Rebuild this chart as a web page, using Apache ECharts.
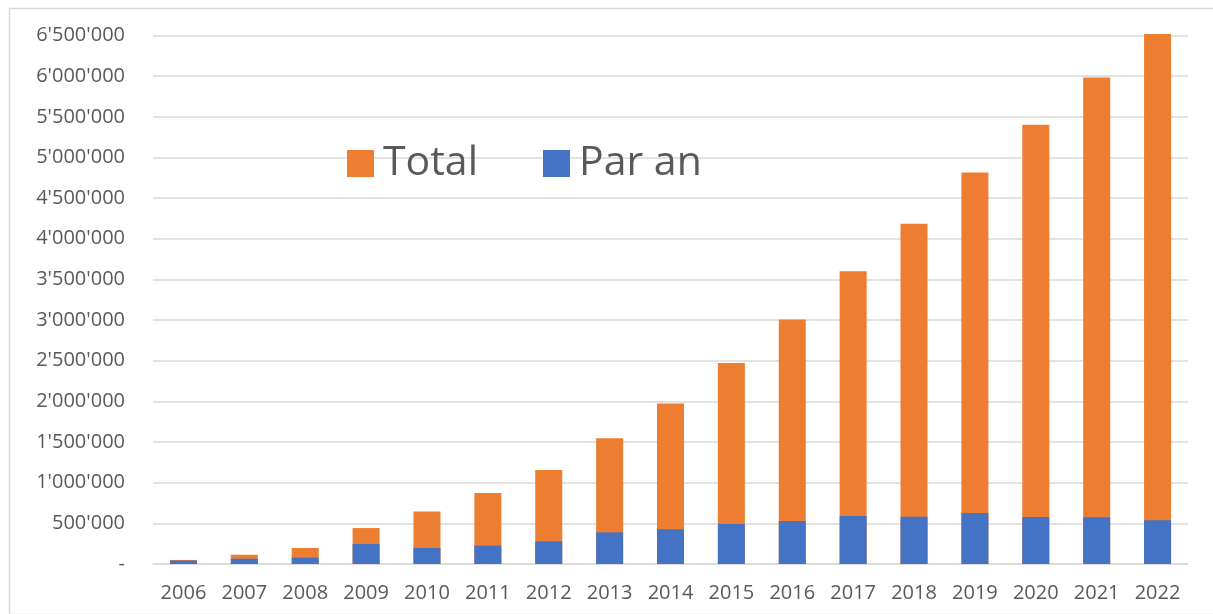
<!DOCTYPE html>
<html>
<head>
<meta charset="utf-8">
<script src="https://cdn.jsdelivr.net/npm/echarts@6/dist/echarts.min.js"></script>
<style>
html,body{margin:0;padding:0;background:#fff;}
#c{width:1213px;height:614px;}
</style>
</head>
<body>
<div id="c"></div>
<script>
const categories = ['2006','2007','2008','2009','2010','2011','2012','2013','2014','2015','2016','2017','2018','2019','2020','2021','2022'];
const totalValues = [50000,114000,197000,442000,647000,872000,1155000,1548000,1974000,2473000,3006000,3600000,4185000,4816000,5401000,5983000,6519000];
const parAnValues = [42000,65000,78000,246000,197000,225000,279000,389000,426000,491000,528000,590000,581000,627000,577000,574000,537000];
const seriesNames = ['Total','Par an'];

function fmt(v){
  if (v === 0) return '-';
  return String(v).replace(/\B(?=(\d{3})+(?!\d))/g, "'");
}

const chart = echarts.init(document.getElementById('c'), null, {renderer:'canvas'});
const font = '"Open Sans", sans-serif';
chart.setOption({
  animation: false,
  backgroundColor: '#fff',
  graphic: [{
    type: 'rect', left: 7, top: 6, z: -1,
    shape: {width: 1220, height: 606},
    style: {fill: 'none', stroke: '#d9d9d9', lineWidth: 1.5}
  }],
  legend: {
    left: 342, top: 138,
    itemWidth: 27, itemHeight: 27, itemGap: 65,
    icon: 'rect',
    textStyle: {fontFamily: font, fontSize: 41, color: '#595959', padding: [0,0,0,4]},
    data: seriesNames
  },
  grid: {left: 153, right: 25, top: 35.5, bottom: 50, containLabel: false},
  xAxis: {
    type: 'category',
    data: categories,
    axisLine: {show: true, lineStyle: {color: '#d9d9d9', width: 1.5}},
    axisTick: {show: false},
    axisLabel: {fontFamily: font, fontSize: 20, color: '#595959', margin: 19, interval: 0}
  },
  yAxis: {
    type: 'value',
    min: 0, max: 6500000, interval: 500000,
    axisLine: {show: false},
    axisTick: {show: false},
    splitLine: {lineStyle: {color: '#d9d9d9', width: 1.5}},
    axisLabel: {fontFamily: font, fontSize: 20, color: '#595959', margin: 28, formatter: fmt}
  },
  series: [
    {name: seriesNames[0], type: 'bar', data: totalValues, barWidth: 27, barGap: '-100%', clip: false,
     itemStyle: {color: '#ED7D31'}},
    {name: seriesNames[1], type: 'bar', data: parAnValues, barWidth: 27, clip: false,
     itemStyle: {color: '#4472C4'}}
  ]
});
</script>
</body>
</html>
